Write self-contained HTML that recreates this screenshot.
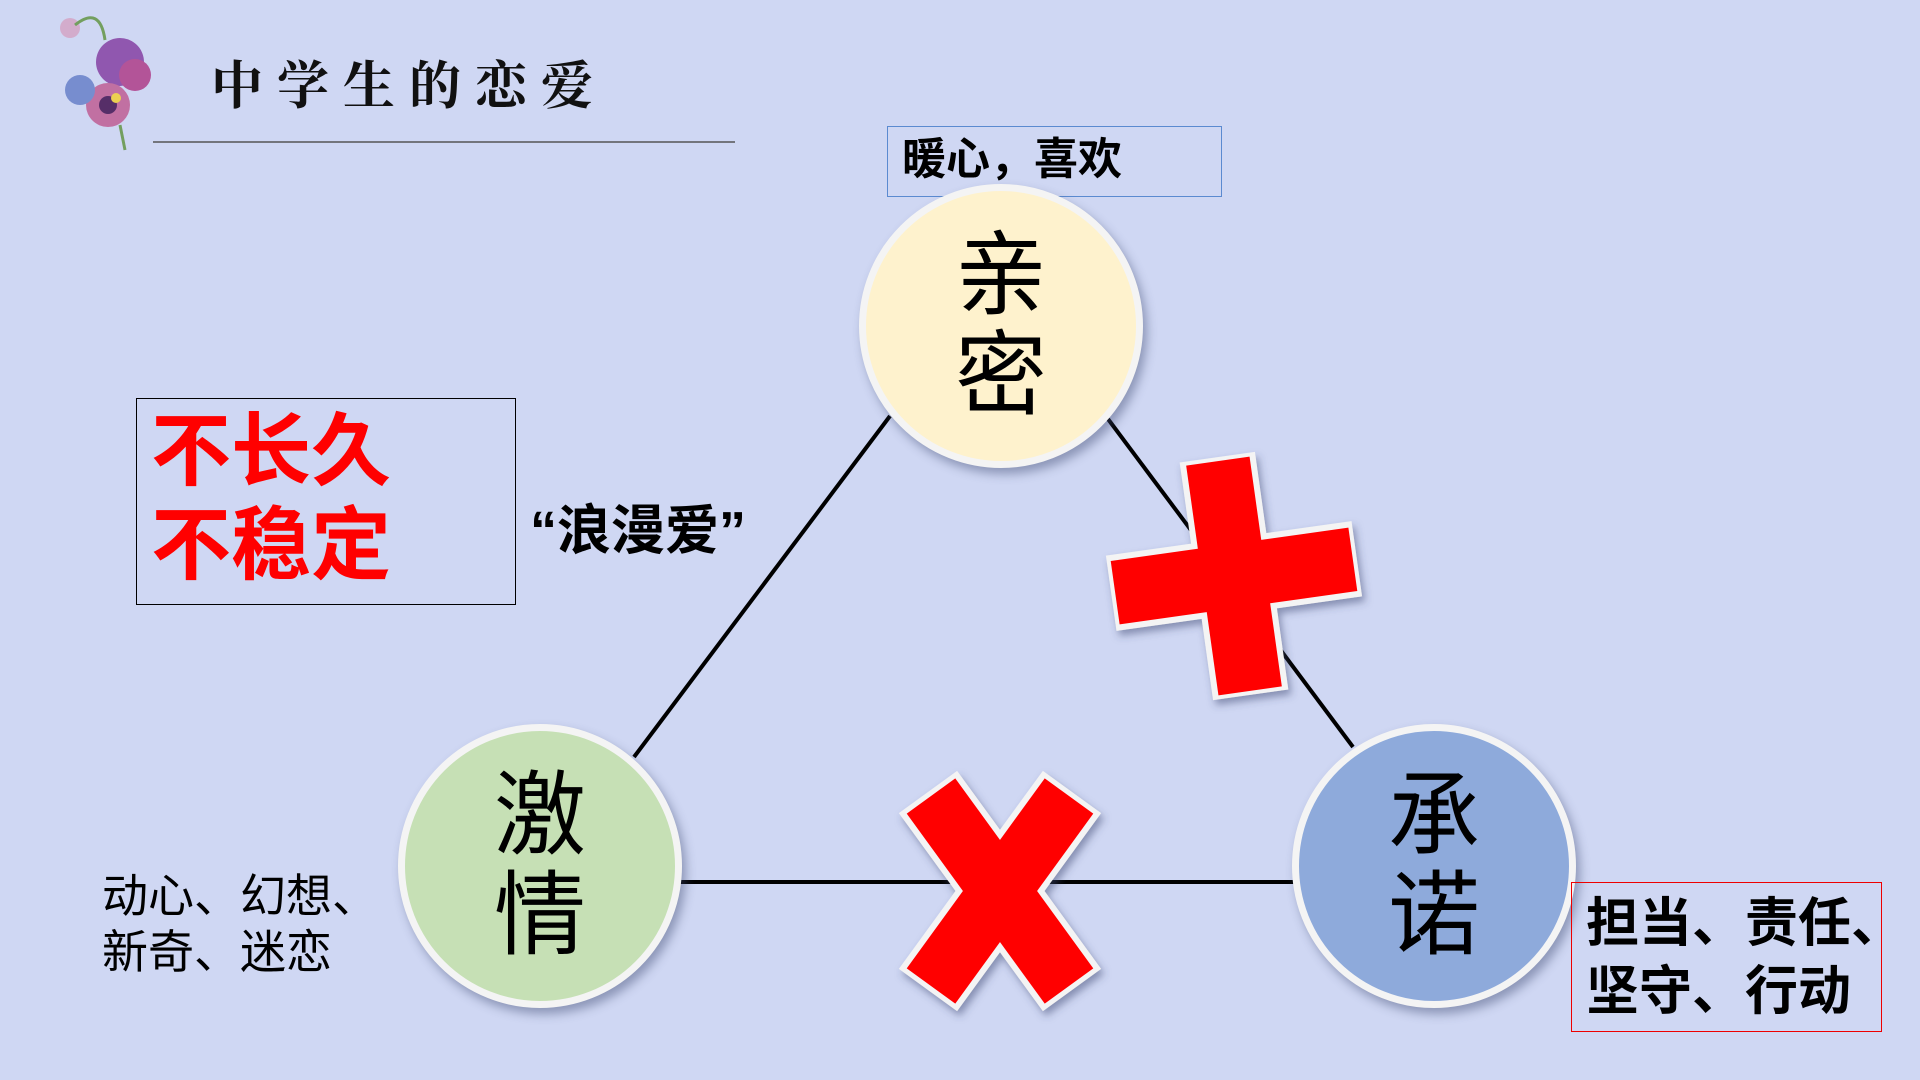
<!DOCTYPE html>
<html><head><meta charset="utf-8"><style>
body{margin:0;width:1920px;height:1080px;overflow:hidden;background:#cfd7f3;position:relative;font-family:"Liberation Sans","Noto Sans CJK SC",sans-serif}
.a{position:absolute;white-space:nowrap}
.c{position:absolute;border-radius:50%;border:7px solid #f4f4f4;box-shadow:4px 6px 10px rgba(60,70,110,.45);box-sizing:border-box;text-align:center;font-size:92px;line-height:100px;color:#000;display:flex;flex-direction:column;justify-content:center;align-items:center}
</style></head><body>
<svg class="a" style="left:0;top:0" width="1920" height="1080">
<defs><filter id="s"><feDropShadow dx="3" dy="5" stdDeviation="4" flood-color="#3a4470" flood-opacity=".5"/></filter></defs>
<g opacity=".9">
<circle cx="120" cy="62" r="24" fill="#8a4aa8"/><circle cx="135" cy="75" r="16" fill="#b0468f"/>
<circle cx="108" cy="105" r="22" fill="#c0659a"/><circle cx="108" cy="105" r="9" fill="#4a1c5a"/>
<circle cx="80" cy="90" r="15" fill="#6e86cc"/><circle cx="70" cy="28" r="10" fill="#d4a8c8"/>
<circle cx="116" cy="98" r="5" fill="#f0d040"/>
<path d="M75 25 Q100 5 105 40" stroke="#6a9a50" stroke-width="3" fill="none"/>
<path d="M120 125 L125 150" stroke="#6a9a50" stroke-width="3"/>
</g>
<line x1="153" y1="142" x2="735" y2="142" stroke="#555" stroke-width="1.5"/>
<g stroke="#000" stroke-width="4">
<line x1="890" y1="416" x2="634" y2="757"/><line x1="1108" y1="419" x2="1353" y2="747"/><line x1="680" y1="882" x2="1294" y2="882"/>
</g>
</svg>
<div class="a" style="left:211px;top:44px;font-size:52px;letter-spacing:14px;font-family:'Noto Serif CJK SC',serif;font-weight:bold;color:#111">中学生的恋爱</div>
<div class="a" style="left:887px;top:126px;width:335px;height:71px;border:1.5px solid #5b8ad0;box-sizing:border-box;font-size:44px;font-weight:bold;line-height:66px;padding-left:14px">暖心，喜欢</div>
<div class="c" style="left:859px;top:184px;width:284px;height:284px;background:#fef2cd">亲<br>密</div>
<div class="c" style="left:398px;top:724px;width:284px;height:284px;background:#c6e0b5">激<br>情</div>
<div class="c" style="left:1292px;top:724px;width:284px;height:284px;background:#8eaadb">承<br>诺</div>
<div class="a" style="left:136px;top:398px;width:380px;height:207px;border:1.5px solid #000;box-sizing:border-box;color:#f00;font-size:80px;line-height:94px;padding:6px 0 0 14px;font-weight:bold">不长久<br>不稳定</div>
<div class="a" style="left:530px;top:486px;font-size:54px;font-weight:bold">“浪漫爱”</div>
<div class="a" style="left:102px;top:868px;font-size:46px;line-height:56px">动心、幻想、<br>新奇、迷恋</div>
<div class="a" style="left:1571px;top:882px;width:311px;height:150px;border:1.5px solid #e00;box-sizing:border-box"></div>
<div class="a" style="left:1586px;top:890px;font-size:53px;line-height:68px;font-weight:bold">担当、责任、<br>坚守、行动</div>
<svg class="a" style="left:0;top:0" width="1920" height="1080">
<g filter="url(#s)">
<g transform="rotate(-8 1234 576)" stroke-linecap="butt">
<line x1="1234" y1="456" x2="1234" y2="696" stroke="#f4f4f4" stroke-width="76"/>
<line x1="1110" y1="576" x2="1358" y2="576" stroke="#f4f4f4" stroke-width="76"/>
<line x1="1234" y1="460" x2="1234" y2="692" stroke="#f00" stroke-width="64"/>
<line x1="1114" y1="576" x2="1354" y2="576" stroke="#f00" stroke-width="64"/>
</g>
<g>
<line x1="928" y1="792" x2="1072" y2="990" stroke="#f4f4f4" stroke-width="72"/>
<line x1="1072" y1="792" x2="928" y2="990" stroke="#f4f4f4" stroke-width="72"/>
<line x1="931" y1="796" x2="1069" y2="986" stroke="#f00" stroke-width="60"/>
<line x1="1069" y1="796" x2="931" y2="986" stroke="#f00" stroke-width="60"/>
</g>
</g>
</svg>
</body></html>
